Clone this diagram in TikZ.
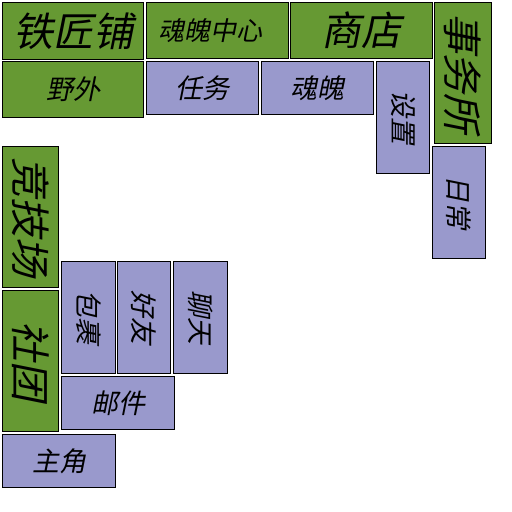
\documentclass[tikz,border=0pt]{standalone}
\usepackage{fontspec}
\newfontfamily\cjk[FakeSlant=0.2]{Noto Sans CJK SC}
\definecolor{gbox}{HTML}{669933}
\definecolor{pbox}{HTML}{9999CC}
\tikzset{
  cell/.style={draw=black, line width=1pt, inner sep=0pt, anchor=north west},
  gcell/.style={cell, fill=gbox},
  pcell/.style={cell, fill=pbox},
  big/.style={font=\cjk\fontsize{40}{40}\selectfont},
  mid/.style={font=\cjk\fontsize{27}{27}\selectfont},
  vtext/.style={rotate=-90},
}
\begin{document}
\begin{tikzpicture}[x=1pt,y=-1pt]
\useasboundingbox (0,0) rectangle (512,512);
% top row
\node[gcell, minimum width=141pt, minimum height=57pt] (tjp) at (2,2) {};
\node[big] (tjpt) at (tjp.center) {铁匠铺};
\node[gcell, minimum width=142pt, minimum height=56pt] (hpzx) at (146,2) {};
\node[font=\cjk\fontsize{26}{26}\selectfont] (hpzxt) at ([xshift=-7pt]hpzx.center) {魂魄中心};
\node[gcell, minimum width=142pt, minimum height=56pt] (sd) at (290,2) {};
\node[big] (sdt) at (sd.center) {商店};
\node[gcell, minimum width=57pt, minimum height=141pt] (sws) at (434,2) {};
\node[big, vtext] (swst) at (sws.center) {事务所};
% second row
\node[gcell, minimum width=141pt, minimum height=56pt] (yw) at (2,61) {};
\node[mid] (ywt) at (yw.center) {野外};
\node[pcell, minimum width=112pt, minimum height=53pt] (rw) at (146,61) {};
\node[mid] (rwt) at (rw.center) {任务};
\node[pcell, minimum width=112pt, minimum height=53pt] (hp) at (261,61) {};
\node[mid] (hpt) at (hp.center) {魂魄};
\node[pcell, minimum width=53pt, minimum height=112pt] (sz) at (376,61) {};
\node[mid, vtext] (szt) at (sz.center) {设置};
\node[pcell, minimum width=53pt, minimum height=112pt] (rc) at (432,146) {};
\node[mid, vtext] (rct) at (rc.center) {日常};
% left column
\node[gcell, minimum width=56pt, minimum height=141pt] (jjc) at (2,146) {};
\node[big, vtext] (jjct) at (jjc.center) {竞技场};
\node[gcell, minimum width=56pt, minimum height=141pt] (st) at (2,290) {};
\node[big, vtext] (stt) at (st.center) {社团};
% small boxes
\node[pcell, minimum width=54pt, minimum height=112pt] (bg) at (61,261) {};
\node[mid, vtext] (bgt) at (bg.center) {包裹};
\node[pcell, minimum width=53pt, minimum height=112pt] (hy) at (117,261) {};
\node[mid, vtext] (hyt) at (hy.center) {好友};
\node[pcell, minimum width=54pt, minimum height=112pt] (lt) at (173,261) {};
\node[mid, vtext] (ltt) at (lt.center) {聊天};
\node[pcell, minimum width=113pt, minimum height=53pt] (yj) at (61,376) {};
\node[mid] (yjt) at (yj.center) {邮件};
\node[pcell, minimum width=113pt, minimum height=53pt] (zj) at (2,434) {};
\node[mid] (zjt) at (zj.center) {主角};
\end{tikzpicture}
\end{document}
